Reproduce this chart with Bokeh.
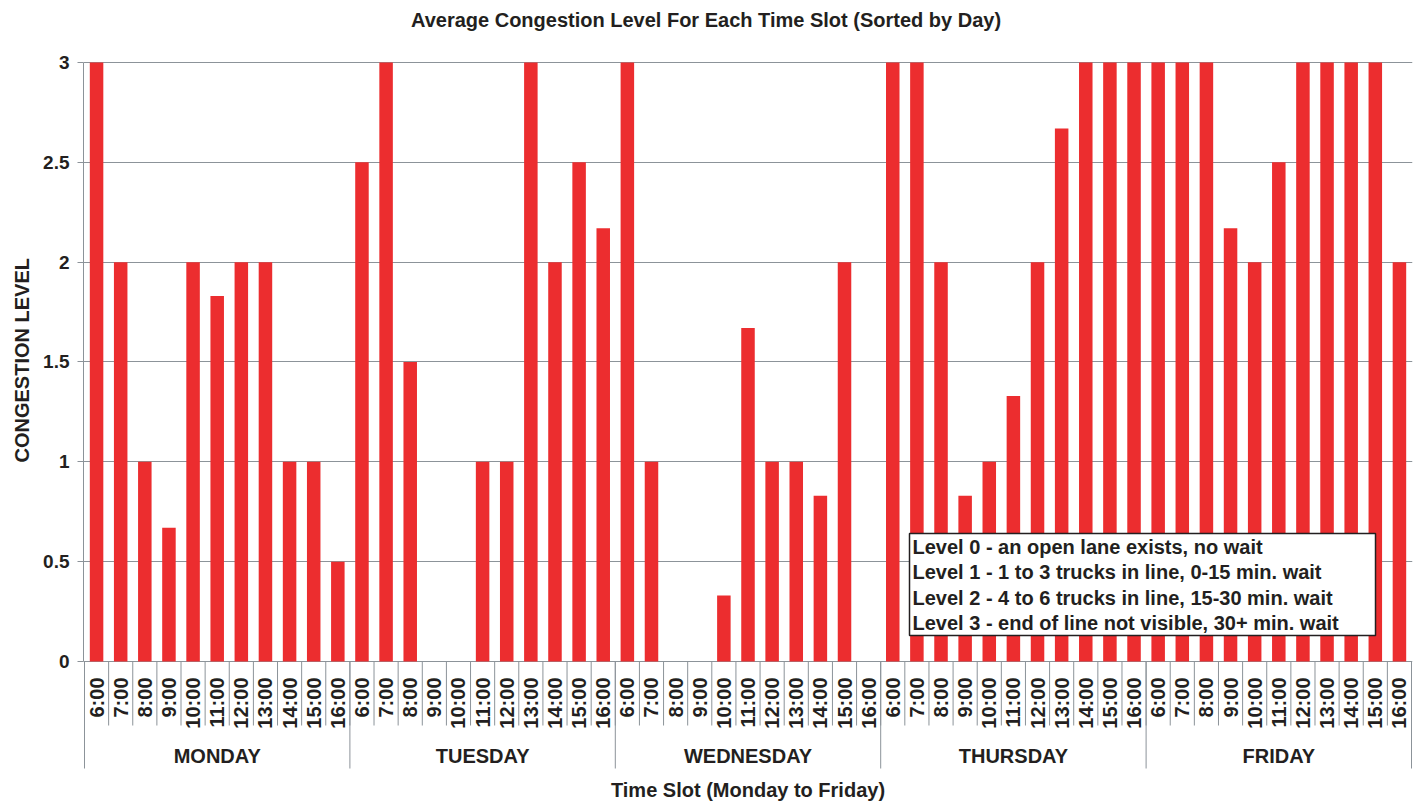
import numpy as np
from bokeh.plotting import figure
from bokeh.models import Range1d, FixedTicker, Title, ColumnDataSource
from bokeh.core.properties import value
from bokeh.embed import file_html
from bokeh.resources import INLINE

# ---------------- data ----------------
days = ["MONDAY", "TUESDAY", "WEDNESDAY", "THURSDAY", "FRIDAY"]
slots = ["6:00", "7:00", "8:00", "9:00", "10:00", "11:00",
         "12:00", "13:00", "14:00", "15:00", "16:00"]
monday = [3, 2, 1, 0.67, 2, 1.83, 2, 2, 1, 1, 0.5]
tuesday = [2.5, 3, 1.5, 0, 0, 1, 1, 3, 2, 2.5, 2.17]
wednesday = [3, 1, 0, 0, 0.33, 1.67, 1, 1, 0.83, 2, 0]
thursday = [3, 3, 2, 0.83, 1, 1.33, 2, 2.67, 3, 3, 3]
friday = [3, 3, 3, 2.17, 2, 2.5, 3, 3, 3, 3, 2]
y_ticks = [0, 0.5, 1, 1.5, 2, 2.5, 3]
y_tick_labels = ["0", "0.5", "1", "1.5", "2", "2.5", "3"]
legend_lines = [
    "Level 0 - an open lane exists, no wait",
    "Level 1 - 1 to 3 trucks in line, 0-15 min. wait",
    "Level 2 - 4 to 6 trucks in line, 15-30 min. wait",
    "Level 3 - end of line not visible, 30+ min. wait",
]
title_text = "Average Congestion Level For Each Time Slot (Sorted by Day)"
x_title = "Time Slot (Monday to Friday)"
y_title = "CONGESTION LEVEL"

# ---------------- styling ----------------
FONT = "Liberation Sans"
TXT = "#231F20"
GRAY = "#8C9399"
RED = "#EC2D2F"

values = monday + tuesday + wednesday + thursday + friday
n_slots = len(slots)
n = len(values)
xs = np.arange(n) + 0.5

PX_X = 24.127   # px per slot
PX_Y = 199.67   # px per unit
Y0 = 661        # pixel row of value 0
X0 = 84         # pixel column of the first slot boundary
H = 802


def py(row):
    return (Y0 - row) / PX_Y


def px(col):
    return (col - X0) / PX_X


p = figure(width=1420, height=H, output_backend="svg", toolbar_location=None,
           x_range=Range1d(-1 / PX_X, n + 1 / PX_X),
           y_range=Range1d(py(H), py(0)),
           x_axis_location=None, title=None,
           min_border_left=83, min_border_right=8, min_border_top=0, min_border_bottom=0)
p.outline_line_color = None
p.background_fill_color = "white"
p.border_fill_color = "white"
p.xgrid.visible = False

# y axis
ticker = FixedTicker(ticks=y_ticks)
yax = p.yaxis[0]
yax.ticker = ticker
yax.bounds = (0, 3)
yax.major_label_overrides = {t: l for t, l in zip(y_ticks, y_tick_labels)}
yax.major_label_text_font = FONT
yax.major_label_text_font_size = "19px"
yax.major_label_text_font_style = "bold"
yax.major_label_text_color = TXT
yax.major_label_standoff = 8
yax.major_tick_out = 6
yax.major_tick_in = 0
yax.minor_tick_line_color = None
yax.major_tick_line_color = GRAY
yax.axis_line_color = GRAY
p.ygrid.ticker = ticker
p.ygrid.grid_line_color = GRAY
p.ygrid.grid_line_width = 1

p.add_layout(Title(text=y_title, align="left", offset=H - 462, standoff=15,
                   text_font=FONT, text_font_size="20px", text_font_style="bold",
                   text_color=TXT), "left")

# title
p.text(x=[px(705.5)], y=[py(19)], text=[title_text],
       text_font=value(FONT), text_font_size="20px", text_font_style="bold",
       text_color=TXT, text_align="center", text_baseline="middle")

# bars
src = ColumnDataSource(dict(x=xs, top=values))
p.vbar(x="x", top="top", bottom=0, width=0.56, source=src,
       fill_color=RED, line_color=None)

# legend box
p.quad(left=[px(909)], right=[px(1375)], top=[py(533)], bottom=[py(635)],
       fill_color="white", line_color="#231F20", line_width=1.5)
leg_y = [py(yy) for yy in (546, 571.5, 597, 622)]
p.text(x=[px(912)] * len(legend_lines), y=leg_y, text=legend_lines,
       text_font=value(FONT), text_font_size="20px", text_font_style="bold",
       text_color=TXT, text_align="left", text_baseline="middle")

# category separators below the axis
bounds_x = np.arange(n + 1)
p.segment(x0=bounds_x, y0=np.zeros(n + 1), x1=bounds_x,
          y1=np.full(n + 1, py(725)), line_color=GRAY, line_width=1)
day_x = np.arange(0, n + 1, n_slots)
p.segment(x0=day_x, y0=np.zeros(len(day_x)), x1=day_x,
          y1=np.full(len(day_x), py(768)), line_color=GRAY, line_width=1)

# slot labels (vertical)
slot_labels = slots * len(days)
p.text(x=xs, y=np.full(n, py(677)), text=slot_labels, angle=np.pi / 2,
       text_font=value(FONT), text_font_size="20px", text_font_style="bold",
       text_color=TXT, text_align="right", text_baseline="middle")

# day labels
day_centers = np.arange(len(days)) * n_slots + n_slots / 2
p.text(x=day_centers, y=np.full(len(days), py(755)), text=days,
       text_font=value(FONT), text_font_size="20px", text_font_style="bold",
       text_color=TXT, text_align="center", text_baseline="middle")

# x axis title
p.text(x=[n / 2], y=[py(789)], text=[x_title],
       text_font=value(FONT), text_font_size="20px", text_font_style="bold",
       text_color=TXT, text_align="center", text_baseline="middle")

open("out.html", "w").write(file_html(p, INLINE))
